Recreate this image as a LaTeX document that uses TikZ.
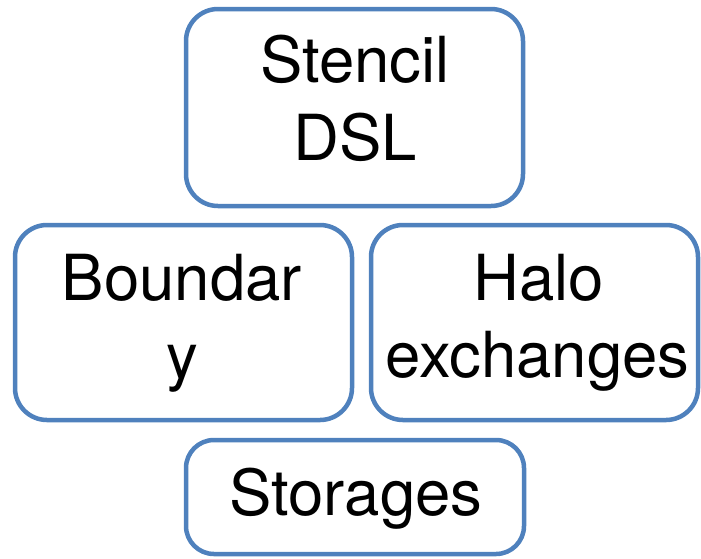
\documentclass[tikz,border=0pt]{standalone}
\usepackage{fontspec}
\setmainfont{TeX Gyre Heros}
\definecolor{boxblue}{HTML}{4F81BD}
\begin{document}
\begin{tikzpicture}[x=1pt,y=-1pt,
  blk/.style={draw=boxblue, line width=4.5pt, rounded corners=32pt, fill=white,
              inner sep=0pt, outer sep=0pt},
  lbl/.style={anchor=base, inner sep=0pt, align=center,
              font=\fontsize{63.5}{78}\selectfont}]
  \useasboundingbox (0,0) rectangle (701,558);
  % boxes
  \node[blk, minimum width=337pt, minimum height=197pt] (stencil) at (354.5,107.5) {};
  \node[blk, minimum width=337pt, minimum height=195pt] (boundary) at (183.5,322.5) {};
  \node[blk, minimum width=327pt, minimum height=195pt] (halo) at (534.5,322.5) {};
  \node[blk, rounded corners=28pt, minimum width=338pt, minimum height=114pt] (storages) at (355,497) {};
  % labels
  \node[lbl] (t1a) at (355,82) {Stencil};
  \node[lbl] (t1b) at (355,160) {DSL};
  \node[lbl] (t2a) at (182,300) {Boundar};
  \node[lbl] (t2b) at (182,378) {y};
  \node[lbl] (t3a) at (539,300) {Halo};
  \node[lbl] (t3b) at (537.5,377) {exchanges};
  \node[lbl] (t4) at (356,515) {Storages};
\end{tikzpicture}
\end{document}
